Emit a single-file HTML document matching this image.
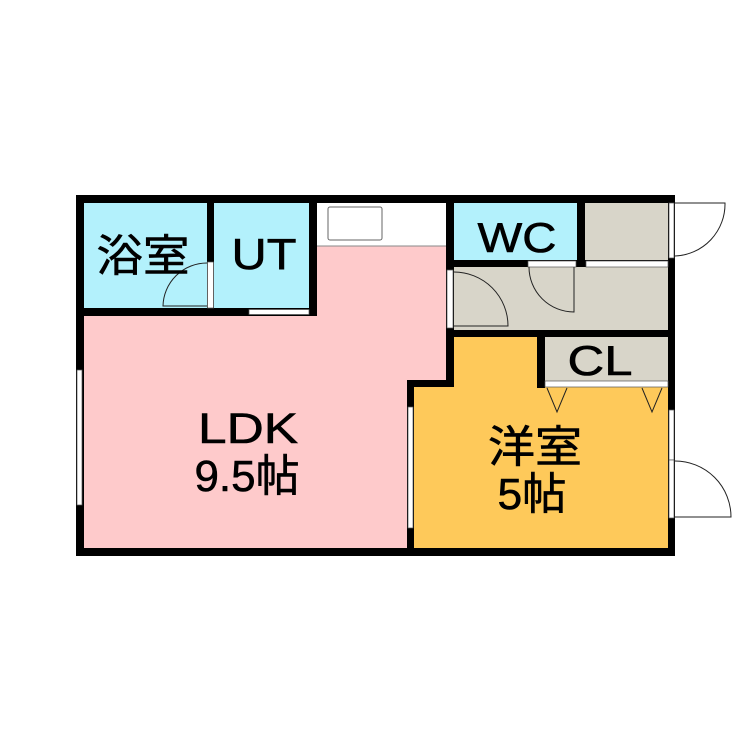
<!DOCTYPE html>
<html><head><meta charset="utf-8"><style>
html,body{margin:0;padding:0;background:#fff;}
svg{display:block}
text{font-family:"Liberation Sans","Noto Sans CJK JP",sans-serif;fill:#000;text-anchor:middle;stroke:#000;stroke-width:0.6}
</style></head><body>
<svg width="750" height="750" viewBox="0 0 750 750" xmlns="http://www.w3.org/2000/svg">
<rect x="83" y="316" width="330" height="233" fill="#fecacb"/>
<rect x="317" y="246" width="130" height="140" fill="#fecacb"/>
<rect x="317" y="203" width="130" height="43" fill="#fff"/>
<rect x="83" y="203" width="125" height="106" fill="#b3f1fc"/>
<rect x="214" y="203" width="96" height="106" fill="#b3f1fc"/>
<rect x="454" y="203" width="124" height="58" fill="#b3f1fc"/>
<rect x="585" y="203" width="84" height="58" fill="#d8d5c9"/>
<rect x="454" y="267" width="215" height="63" fill="#d8d5c9"/>
<rect x="545" y="337" width="124" height="45" fill="#d8d5c9"/>
<rect x="413" y="387" width="256" height="162" fill="#fec95a"/>
<rect x="454" y="337" width="84" height="50" fill="#fec95a"/>
<rect x="328" y="207" width="54" height="33" rx="2" fill="#fff" stroke="#666" stroke-width="1"/>
<line x1="317" y1="246" x2="447" y2="246" stroke="#888" stroke-width="1"/>
<g fill="#000">
<rect x="76" y="195" width="599" height="8"/>
<rect x="76" y="195" width="8" height="361"/>
<rect x="76" y="548" width="338" height="8"/>
<rect x="407" y="548" width="268" height="8"/>
<rect x="668" y="195" width="7" height="361"/>
<rect x="207" y="195" width="7" height="121"/>
<rect x="309" y="195" width="8" height="121"/>
<rect x="76" y="308" width="241" height="8"/>
<rect x="446" y="195" width="8" height="192"/>
<rect x="577" y="195" width="8" height="72"/>
<rect x="446" y="260" width="229" height="7"/>
<rect x="446" y="330" width="229" height="7"/>
<rect x="537" y="330" width="8" height="58"/>
<rect x="407" y="380" width="47" height="7"/>
<rect x="407" y="380" width="7" height="176"/>
</g>
<g fill="#fff" stroke="#555" stroke-width="0.7">
<rect x="207.5" y="262" width="6" height="46"/>
<rect x="249" y="309.5" width="60" height="5"/>
<rect x="77" y="370" width="5" height="135"/>
<rect x="408" y="407" width="5" height="121"/>
<rect x="447" y="270" width="6" height="58"/>
<rect x="528" y="261" width="48" height="6"/>
<rect x="586" y="261" width="82" height="6"/>
<rect x="669" y="203" width="5" height="55"/>
<rect x="669" y="410" width="5" height="50"/>
<rect x="669" y="460" width="5" height="58"/>
<rect x="545" y="381" width="123" height="6"/>
</g>
<g fill="none" stroke="#222" stroke-width="1">
<path d="M207 263 A44 44 0 0 0 163 306 L207 306"/>
<path d="M454 272 A54 54 0 0 1 508 326 L454 326"/>
<path d="M574 267 L574 312 A45 45 0 0 1 529 267"/>
<path d="M675 203 L725 203 A52 52 0 0 1 675 256"/>
<path d="M675 461 A56 56 0 0 1 731 517 L675 517"/>
<path d="M547 388 L557 412 L567 388"/>
<path d="M642 388 L652 412 L662 388"/>
</g>
<text x="143" y="271" font-size="44" textLength="93" lengthAdjust="spacingAndGlyphs">浴室</text>
<text x="264" y="269" font-size="44" textLength="65" lengthAdjust="spacingAndGlyphs">UT</text>
<text x="517" y="252" font-size="42" textLength="79" lengthAdjust="spacingAndGlyphs">WC</text>
<text x="600" y="375" font-size="42" textLength="65" lengthAdjust="spacingAndGlyphs">CL</text>
<text x="248" y="443" font-size="43" textLength="100" lengthAdjust="spacingAndGlyphs">LDK</text>
<text x="247" y="491" font-size="44" textLength="105" lengthAdjust="spacingAndGlyphs">9.5帖</text>
<text x="535" y="462" font-size="44" textLength="94" lengthAdjust="spacingAndGlyphs">洋室</text>
<text x="532" y="509" font-size="44" textLength="69" lengthAdjust="spacingAndGlyphs">5帖</text>
</svg>
</body></html>
